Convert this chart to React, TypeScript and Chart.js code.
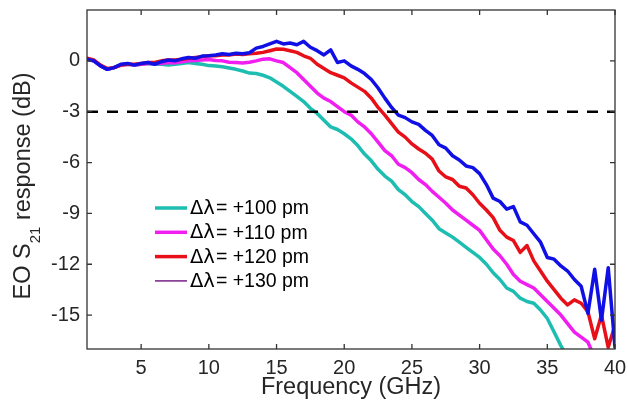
import React, { useEffect, useRef } from "react";
import { Chart, registerables } from "chart.js";

Chart.register(...registerables);

const FREQ = [
  1, 1.5, 2, 2.5, 3, 3.5, 4, 4.5, 5, 5.5, 6, 6.5, 7, 7.5, 8, 8.5, 9, 9.5, 10, 10.5,
  11, 11.5, 12, 12.5, 13, 13.5, 14, 14.5, 15, 15.5, 16, 16.5, 17, 17.5, 18, 18.5, 19, 19.5, 20, 20.5,
  21, 21.5, 22, 22.5, 23, 23.5, 24, 24.5, 25, 25.5, 26, 26.5, 27, 27.5, 28, 28.5, 29, 29.5, 30, 30.5,
  31, 31.5, 32, 32.5, 33, 33.5, 34, 34.5, 35, 35.5, 36, 36.5, 37, 37.5, 38, 38.5, 39, 39.5, 40,
];

const CYAN_100 = [
  0.1, 0.0, -0.3, -0.5, -0.4, -0.25, -0.2, -0.25, -0.2, -0.15, -0.2, -0.2, -0.25, -0.2, -0.15, -0.1, -0.15, -0.2, -0.28, -0.3,
  -0.35, -0.42, -0.5, -0.6, -0.72, -0.75, -0.85, -1.0, -1.25, -1.5, -1.8, -2.1, -2.4, -2.8, -3.1, -3.5, -3.9, -4.05, -4.3, -4.6,
  -5.0, -5.5, -5.9, -6.4, -6.8, -7.1, -7.6, -7.9, -8.3, -8.6, -9.0, -9.4, -9.9, -10.15, -10.4, -10.7, -11.0, -11.3, -11.6, -12.0,
  -12.5, -12.9, -13.4, -13.6, -14.0, -14.2, -14.3, -14.7, -15.2, -16.0, -16.8, -17.5, null, null, null, null, null, null, null,
];

const MAGENTA_110 = [
  0.1, 0.0, -0.3, -0.5, -0.4, -0.25, -0.2, -0.25, -0.2, -0.15, -0.15, -0.15, -0.1, -0.12, -0.05, 0.0, 0.02, 0.05, 0.08, 0.02,
  0.0, -0.08, -0.1, -0.12, -0.08, 0.0, 0.1, 0.12, 0.0, -0.1, -0.4, -0.7, -1.1, -1.5, -1.9, -2.2, -2.4, -2.7, -3.0, -3.2,
  -3.6, -3.9, -4.3, -4.8, -5.3, -5.6, -6.1, -6.3, -6.6, -7.0, -7.3, -7.7, -8.05, -8.4, -8.8, -9.1, -9.4, -9.7, -10.0, -10.55,
  -11.1, -11.5, -12.0, -12.6, -13.0, -13.2, -13.4, -13.8, -14.2, -14.6, -15.0, -15.5, -16.0, -16.3, -16.6, -17.5, null, null, null,
];

const RED_120 = [
  0.15, 0.05, -0.25, -0.45, -0.4, -0.25, -0.2, -0.2, -0.15, -0.1, -0.1, 0.0, 0.05, 0.05, 0.1, 0.15, 0.2, 0.25, 0.3, 0.3,
  0.35, 0.35, 0.4, 0.38, 0.42, 0.45, 0.5, 0.6, 0.7, 0.68, 0.6, 0.5, 0.3, 0.15, -0.2, -0.45, -0.7, -0.85, -1.0, -1.3,
  -1.55, -1.8, -2.2, -2.75, -3.2, -3.7, -4.2, -4.5, -4.9, -5.2, -5.45, -5.8, -6.5, -6.85, -7.0, -7.4, -7.5, -7.9, -8.4, -8.8,
  -9.25, -10.0, -10.4, -10.6, -11.3, -10.9, -11.8, -12.4, -13.0, -13.5, -14.0, -14.4, -14.1, -14.3, -14.8, -16.4, -15.0, -16.9, -15.6,
];

const BLUE_130 = [
  0.1, 0.0, -0.3, -0.5, -0.4, -0.2, -0.15, -0.25, -0.15, -0.1, -0.2, -0.05, 0.05, 0.0, 0.12, 0.2, 0.15, 0.28, 0.3, 0.35,
  0.42, 0.38, 0.45, 0.42, 0.48, 0.75, 0.85, 1.0, 1.15, 1.0, 1.05, 0.95, 1.15, 0.8, 0.6, 0.35, 0.65, -0.1, 0.0, -0.3,
  -0.5, -0.75, -1.1, -1.6, -2.2, -2.75, -3.2, -3.35, -3.6, -3.75, -4.1, -4.4, -4.95, -5.15, -5.6, -5.85, -6.2, -6.3, -6.65, -7.3,
  -8.1, -8.3, -8.75, -8.6, -9.5, -9.7, -10.2, -10.7, -11.6, -11.7, -12.1, -12.4, -12.9, -13.3, -14.9, -12.3, -15.3, -12.2, -16.9,
];

const THRESHOLD_X = [1, 40];
const THRESHOLD_DB = [-3, -3];

const X_TICKS = [5, 10, 15, 20, 25, 30, 35, 40];
const Y_TICKS = [-15, -12, -9, -6, -3, 0];

const LEGEND_SYMBOL = "Δλ";
const LEGEND_LABELS = ["= +100 pm", "= +110 pm", "= +120 pm", "= +130 pm"];
const LEGEND_COLORS = ["#1DBDB2", "#F01EF0", "#E81018", "#7E2F8E"];
const LEGEND_WIDTHS = [3.5, 3.5, 3.5, 1.6];

const COL_CYAN = "#1DBDB2";
const COL_MAGENTA = "#F01EF0";
const COL_RED = "#E81018";
const COL_BLUE = "#1010E6";
const AXIS_COLOR = "#333333";
const TEXT_COLOR = "#262626";
const FONT = '"Liberation Sans", Arial, sans-serif';

function pts(xs: number[], ys: (number | null)[]) {
  return xs.map((x, i) => ({ x, y: ys[i] }));
}

const framePlugin = {
  id: "framePlugin",
  afterDatasetsDraw(chart: any) {
    const { ctx, chartArea: a, scales } = chart;
    ctx.save();
    ctx.strokeStyle = AXIS_COLOR;
    ctx.lineWidth = 1.3;
    ctx.strokeRect(a.left, a.top, a.right - a.left, a.bottom - a.top);
    const tl = 5;
    ctx.beginPath();
    for (const v of X_TICKS) {
      const px = scales.x.getPixelForValue(v);
      ctx.moveTo(px, a.bottom);
      ctx.lineTo(px, a.bottom - tl);
      ctx.moveTo(px, a.top);
      ctx.lineTo(px, a.top + tl);
    }
    for (const v of Y_TICKS) {
      const py = scales.y.getPixelForValue(v);
      ctx.moveTo(a.left, py);
      ctx.lineTo(a.left + tl, py);
      ctx.moveTo(a.right, py);
      ctx.lineTo(a.right - tl, py);
    }
    ctx.stroke();

    // legend
    const lx0 = 155, lx1 = 187, tx = 190, ly0 = 208, dy = 24.3;
    ctx.textBaseline = "middle";
    ctx.textAlign = "left";
    LEGEND_LABELS.forEach((lab, i) => {
      const y = ly0 + i * dy;
      ctx.strokeStyle = LEGEND_COLORS[i];
      ctx.lineWidth = LEGEND_WIDTHS[i];
      ctx.beginPath();
      ctx.moveTo(lx0, y);
      ctx.lineTo(lx1, y);
      ctx.stroke();
      ctx.fillStyle = "#000";
      ctx.font = `19.5px "DejaVu Sans", ${FONT}`;
      ctx.fillText(LEGEND_SYMBOL, tx, y + 1);
      const ws = ctx.measureText(LEGEND_SYMBOL).width;
      ctx.font = `19.5px ${FONT}`;
      ctx.fillText(lab, tx + ws + 1, y + 1);
    });

    // x title
    ctx.fillStyle = TEXT_COLOR;
    ctx.font = `23.5px ${FONT}`;
    ctx.textAlign = "center";
    ctx.textBaseline = "alphabetic";
    ctx.fillText("Frequency (GHz)", (a.left + a.right) / 2, 394);

    // y title with subscript
    const mainF = `23.5px ${FONT}`;
    const subF = `15px ${FONT}`;
    const p1 = "EO S", p2 = "21", p3 = " response (dB)";
    ctx.font = mainF;
    const w1 = ctx.measureText(p1).width;
    const w3 = ctx.measureText(p3).width;
    ctx.font = subF;
    const w2 = ctx.measureText(p2).width;
    const total = w1 + w2 + w3;
    ctx.translate(30, 186);
    ctx.rotate(-Math.PI / 2);
    ctx.textAlign = "left";
    let x = -total / 2;
    ctx.font = mainF;
    ctx.fillText(p1, x, 0);
    x += w1;
    ctx.font = subF;
    ctx.fillText(p2, x, 10);
    x += w2;
    ctx.font = mainF;
    ctx.fillText(p3, x, 0);
    ctx.restore();
  },
};

export default function App() {
  const ref = useRef<HTMLCanvasElement | null>(null);
  useEffect(() => {
    if (!ref.current) return;
    const line = (data: any, color: string, order: number) => ({
      data,
      borderColor: color,
      backgroundColor: color,
      borderWidth: 3.5,
      pointRadius: 0,
      tension: 0,
      borderJoinStyle: "round" as const,
      borderCapStyle: "round" as const,
      fill: false,
      order,
    });
    const chart = new Chart(ref.current, {
      type: "line",
      data: {
        datasets: [
          {
            data: pts(THRESHOLD_X, THRESHOLD_DB),
            borderColor: "#000",
            borderWidth: 2.6,
            borderDash: [11, 9],
            pointRadius: 0,
            fill: false,
            order: 0,
          },
          line(pts(FREQ, BLUE_130), COL_BLUE, 1),
          line(pts(FREQ, RED_120), COL_RED, 2),
          line(pts(FREQ, MAGENTA_110), COL_MAGENTA, 3),
          line(pts(FREQ, CYAN_100), COL_CYAN, 4),
        ],
      },
      options: {
        animation: false,
        responsive: false,
        devicePixelRatio: 1,
        layout: { padding: { left: 0, top: 10, right: 13, bottom: 0 } },
        plugins: { legend: { display: false }, tooltip: { enabled: false } },
        scales: {
          x: {
            type: "linear",
            min: 1,
            max: 40,
            grid: { display: false, drawTicks: false },
            border: { display: false },
            ticks: {
              color: TEXT_COLOR,
              font: { family: FONT, size: 20 },
              padding: 7,
              maxRotation: 0,
              autoSkip: false,
            },
            afterBuildTicks: (s: any) => {
              s.ticks = X_TICKS.map((v) => ({ value: v }));
            },
            afterFit: (s: any) => {
              s.height = 62;
              s.paddingLeft = 0;
              s.paddingRight = 0;
            },
          },
          y: {
            type: "linear",
            min: -17,
            max: 3,
            grid: { display: false, drawTicks: false },
            border: { display: false },
            ticks: {
              color: TEXT_COLOR,
              font: { family: FONT, size: 20 },
              padding: 7,
              autoSkip: false,
            },
            afterBuildTicks: (s: any) => {
              s.ticks = Y_TICKS.map((v) => ({ value: v }));
            },
            afterFit: (s: any) => {
              s.width = 87;
              s.paddingTop = 0;
              s.paddingBottom = 0;
            },
          },
        },
      },
      plugins: [framePlugin],
    });
    return () => chart.destroy();
  }, []);
  return (
    <div style={{ position: "fixed", left: 0, top: 0, width: 628, height: 411, background: "#fff" }}>
      <canvas ref={ref} width={628} height={411} style={{ width: 628, height: 411, display: "block" }} />
    </div>
  );
}
